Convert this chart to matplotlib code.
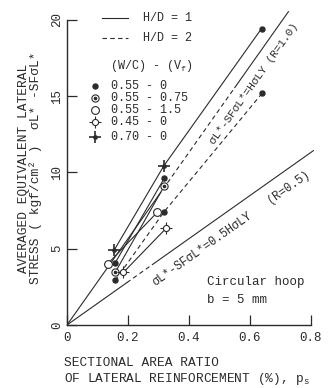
import matplotlib
matplotlib.use('Agg')
import matplotlib.pyplot as plt
import numpy as np

plt.rcParams['font.family'] = ['Liberation Mono', 'DejaVu Sans Mono', 'DejaVu Sans']
INK = '#2b2b2b'

# ---------------- data ----------------
# W/C - Vf = 0.55 - 0  (filled dot)
ps_a1 = [0.157, 0.319, 0.638]      # H/D = 1
st_a1 = [4.04, 9.62, 19.44]
ps_a2 = [0.158, 0.318, 0.640]      # H/D = 2
st_a2 = [2.93, 7.41, 15.2]
# 0.55 - 0.75 (dotted circle)
ps_b = [0.158, 0.319]
st_b = [3.45, 9.11]
# 0.55 - 1.5 (open circle)
ps_c = [0.133, 0.296]
st_c = [4.00, 7.39]
# 0.45 - 0 (circle with cross)
ps_d = [0.185, 0.325]
st_d = [3.45, 6.34]
# 0.70 - 0 (plus)
ps_e = [0.155, 0.318]
st_e = [4.92, 10.45]

# reference lines  sigma = R * k * ps
k_slope = 28.3
R_vals = [1.0, 0.5]
R_segments = {1.0: [(0.0, 0.30, '-'), (0.30, 0.55, '--'), (0.55, 0.726, '-')],
              0.5: [(0.0, 0.196, '-'), (0.196, 0.28, '--'), (0.28, 0.808, '-')]}

xticks = [0, 0.2, 0.4, 0.6, 0.8]
xticklabels = ['0', '0.2', '0.4', '0.6', '0.8']
yticks = [0, 5, 10, 15, 20]
yticklabels = ['0', '5', '10', '15', '20']

legend_labels = ['0.55 - 0', '0.55 - 0.75', '0.55 - 1.5', '0.45 - 0', '0.70 - 0']

# ---------------- figure ----------------
fig = plt.figure(figsize=(3.33, 3.88), dpi=100)
ax = fig.add_axes([0.2012, 0.1624, 0.751, 0.8254])
ax.set_xlim(0, 0.82)
ax.set_ylim(0, 21)
for s in ['top', 'right']:
    ax.spines[s].set_visible(False)
ax.spines['left'].set_bounds(0, 20)
ax.spines['bottom'].set_bounds(0, 0.8)
for s in ['left', 'bottom']:
    ax.spines[s].set_color(INK)
    ax.spines[s].set_linewidth(1.0)

ax.set_xticks(xticks)
ax.set_xticklabels(xticklabels)
ax.set_yticks(yticks)
ax.set_yticklabels(yticklabels, rotation=90, va='center')
ax.tick_params(direction='in', length=7, width=0.9, color=INK, labelcolor=INK, labelsize=9)
ax.tick_params(axis='x', pad=5)
ax.tick_params(axis='y', pad=3)

LW = 0.8
DASH = (0, (4, 3))

# reference lines R = 1.0 and 0.5
for R in R_vals:
    for x0, x1, ls in R_segments[R]:
        xs = np.array([x0, x1])
        ax.plot(xs, R * k_slope * xs, color=INK, lw=LW,
                linestyle=('-' if ls == '-' else DASH))

# H/D = 1 (solid)
ax.plot(ps_a1[:2], st_a1[:2], color=INK, lw=LW)
ax.plot(ps_b, st_b, color=INK, lw=LW)
ax.plot(ps_c, st_c, color=INK, lw=LW)
ax.plot(ps_d, st_d, color=INK, lw=LW)
ax.plot(ps_e, st_e, color=INK, lw=LW)
ax.plot([ps_e[1], ps_a1[2]], [st_e[1], st_a1[2]], color=INK, lw=LW)
# H/D = 2 (dashed)
ax.plot(ps_a2, st_a2, color=INK, lw=LW, linestyle=DASH)


def draw_marker(x, y, kind, transform=None):
    kw = {} if transform is None else {'transform': transform}
    if kind == 0:
        ax.plot(x, y, 'o', ms=3.6, color=INK, mec=INK, ls='none', **kw)
    elif kind == 1:
        ax.plot(x, y, 'o', ms=5.2, mfc='white', mec=INK, mew=0.8, ls='none', **kw)
        ax.plot(x, y, 'o', ms=1.6, color=INK, ls='none', **kw)
    elif kind == 2:
        ax.plot(x, y, 'o', ms=5.6, mfc='white', mec=INK, mew=0.8, ls='none', **kw)
    elif kind == 3:
        ax.plot(x, y, '+', ms=9, mec=INK, mew=0.8, ls='none', **kw)
        ax.plot(x, y, 'o', ms=4.4, mfc='white', mec=INK, mew=0.8, ls='none', **kw)
    elif kind == 4:
        ax.plot(x, y, '+', ms=8.5, mec=INK, mew=1.2, ls='none', **kw)
        ax.plot(x, y, 'o', ms=2.4, color=INK, ls='none', **kw)


draw_marker(ps_a1, st_a1, 0)
draw_marker(ps_a2, st_a2, 0)
draw_marker(ps_b, st_b, 1)
draw_marker(ps_c, st_c, 2)
draw_marker(ps_d, st_d, 3)
draw_marker(ps_e, st_e, 4)

# ---------------- legend (manual) ----------------
T = ax.transAxes
ax.plot([0.140, 0.244], [0.959, 0.959], color=INK, lw=LW, transform=T)
ax.plot([0.140, 0.244], [0.896, 0.896], color=INK, lw=LW, linestyle=DASH, transform=T)
ax.text(0.304, 0.959, 'H/D = 1', transform=T, fontsize=8.5, va='center', ha='left', color=INK)
ax.text(0.304, 0.896, 'H/D = 2', transform=T, fontsize=8.5, va='center', ha='left', color=INK)
ax.text(0.172, 0.809, r'(W/C) - (V$\mathregular{_f}$)', transform=T, fontsize=8.5,
        va='center', ha='left', color=INK)
leg_y = [0.746, 0.709, 0.671, 0.634, 0.587]
for i, (lab, yy) in enumerate(zip(legend_labels, leg_y)):
    draw_marker([0.112], [yy], i, transform=T)
    ax.text(0.176, yy, lab, transform=T, fontsize=8.5, va='center', ha='left', color=INK)

# ---------------- annotations ----------------
fig.canvas.draw()


def disp_angle(slope):
    p0 = ax.transData.transform((0, 0))
    p1 = ax.transData.transform((0.5, 0.5 * slope))
    return np.degrees(np.arctan2(p1[1] - p0[1], p1[0] - p0[0]))


ang1 = disp_angle(R_vals[0] * k_slope)
ang2 = disp_angle(R_vals[1] * k_slope)
ax.text(0.613, 15.8, 'σL*-SFσL*=HσLY (R=1.0)', rotation=ang1, rotation_mode='anchor',
        ha='center', va='center', fontsize=8, color=INK)
ax.text(0.445, 4.95, 'σL*-SFσL*=0.5HσLY', rotation=ang2, rotation_mode='anchor',
        ha='center', va='center', fontsize=8.5, color=INK)
ax.text(0.725, 9.05, '(R=0.5)', rotation=ang2, rotation_mode='anchor',
        ha='center', va='center', fontsize=8.5, color=INK)

ax.text(0.459, 2.82, 'Circular hoop', ha='left', va='center', fontsize=9, color=INK)
ax.text(0.459, 1.64, 'b = 5 mm', ha='left', va='center', fontsize=9, color=INK)

# axis labels
fig.text(24 / 333, 1 - 168 / 388, 'AVERAGED EQUIVALENT LATERAL', rotation=90,
         ha='center', va='center', fontsize=9.3, color=INK)
fig.text(36 / 333, 1 - 168 / 388, 'STRESS ( kgf/cm² )  σL* -SFσL*', rotation=90,
         ha='center', va='center', fontsize=9.3, color=INK)
fig.text(64 / 333, 1 - 363 / 388, 'SECTIONAL AREA RATIO', ha='left', va='center',
         fontsize=9.3, color=INK)
fig.text(64 / 333, 1 - 379 / 388, r'OF LATERAL REINFORCEMENT (%), p$\mathregular{_s}$',
         ha='left', va='center', fontsize=9.3, color=INK)

fig.savefig('out.png', dpi=100)
